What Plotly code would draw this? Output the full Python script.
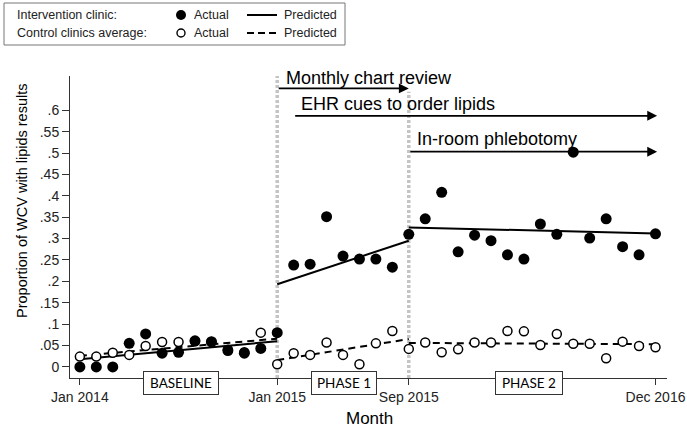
import plotly.graph_objects as go

# ---------------- data ----------------
months = list(range(36))
intervention_actual = [0.0, 0.0, 0.0, 0.055, 0.077, 0.032, 0.034, 0.061, 0.059, 0.038, 0.032, 0.043,
                       0.080, 0.238, 0.240, 0.351, 0.259, 0.252, 0.252, 0.233,
                       0.310, 0.346, 0.408, 0.269, 0.308, 0.295, 0.262, 0.252, 0.334, 0.310,
                       0.502, 0.301, 0.346, 0.281, 0.262, 0.311]
control_actual = [0.024, 0.024, 0.033, 0.028, 0.049, 0.058, 0.058, 0.060, 0.058, 0.040, 0.034, 0.080,
                  0.006, 0.032, 0.028, 0.057, 0.028, 0.006, 0.055, 0.084,
                  0.042, 0.057, 0.034, 0.041, 0.057, 0.057, 0.084, 0.083, 0.051, 0.077,
                  0.054, 0.054, 0.020, 0.059, 0.049, 0.046]

# predicted segments: (start month, end month, start value, end value)
intervention_pred = [(0, 12, 0.018, 0.060), (12, 20, 0.193, 0.295), (20, 35, 0.326, 0.312)]
control_pred = [(0, 12, 0.026, 0.066), (12, 20, 0.016, 0.065), (20, 35, 0.056, 0.053)]

x_tick_vals = [0, 12, 20, 35]
x_tick_text = ["Jan 2014", "Jan 2015", "Sep 2015", "Dec 2016"]
y_tick_vals = [0, 0.05, 0.1, 0.15, 0.2, 0.25, 0.3, 0.35, 0.4, 0.45, 0.5, 0.55, 0.6]
y_tick_text = ["0", ".05", ".1", ".15", ".2", ".25", ".3", ".35", ".4", ".45", ".5", ".55", ".6"]

phase_lines = [12, 20]
phase_labels = ["BASELINE", "PHASE 1", "PHASE 2"]
phase_label_x = [6.15, 16.05, 27.3]

interventions = ["Monthly chart review", "EHR cues to order lipids", "In-room phlebotomy"]
interv_start = [12, 13, 20]
interv_end = [20, 35.1, 35.1]
interv_y = [0.651, 0.587, 0.503]

# ---------------- layout geometry ----------------
W, H = 687, 429
L, R, T, B = 70, 20, 76, 51
PW, PH = W - L - R, H - T - B
FONT = "Liberation Sans, Arial, Helvetica, sans-serif"


def px(xp):
    return (xp - L) / PW


def py(yp):
    return (H - B - yp) / PH


fig = go.Figure()

# predicted lines
for (x0, x1, y0, y1) in control_pred:
    fig.add_trace(go.Scatter(x=[x0, x1], y=[y0, y1], mode="lines",
                             line=dict(color="black", width=2, dash="7px,5px"),
                             showlegend=False, hoverinfo="skip"))
for (x0, x1, y0, y1) in intervention_pred:
    fig.add_trace(go.Scatter(x=[x0, x1], y=[y0, y1], mode="lines",
                             line=dict(color="black", width=2),
                             showlegend=False, hoverinfo="skip"))

# actual points
fig.add_trace(go.Scatter(x=months, y=control_actual, mode="markers",
                         marker=dict(symbol="circle", size=9, color="white",
                                     line=dict(color="black", width=1.5)),
                         showlegend=False, cliponaxis=False))
fig.add_trace(go.Scatter(x=months, y=intervention_actual, mode="markers",
                         marker=dict(symbol="circle", size=11, color="black",
                                     line=dict(width=0)),
                         showlegend=False, cliponaxis=False))

shapes = []
# vertical dotted phase lines
line_tops = [0.682, 0.643]
for xv, top in zip(phase_lines, line_tops):
    shapes.append(dict(type="line", xref="x", yref="y", x0=xv, x1=xv, y0=-0.026, y1=top,
                       line=dict(color="#c4c4c4", width=3.5, dash="3px,2px"), layer="below"))

# legend box
shapes.append(dict(type="rect", xref="paper", yref="paper",
                   x0=px(4), x1=px(345), y0=py(45), y1=py(3),
                   line=dict(color="#777", width=1), fillcolor="white"))
# legend markers
shapes.append(dict(type="circle", xref="paper", yref="paper", xsizemode="pixel", ysizemode="pixel",
                   xanchor=px(181), yanchor=py(15), x0=-5, x1=5, y0=-5, y1=5,
                   fillcolor="black", line=dict(color="black", width=0)))
shapes.append(dict(type="circle", xref="paper", yref="paper", xsizemode="pixel", ysizemode="pixel",
                   xanchor=px(181), yanchor=py(33), x0=-4, x1=4, y0=-4, y1=4,
                   fillcolor="white", line=dict(color="black", width=1.4)))
# legend lines
shapes.append(dict(type="line", xref="paper", yref="paper", x0=px(247), x1=px(277),
                   y0=py(15), y1=py(15), line=dict(color="black", width=2)))
shapes.append(dict(type="line", xref="paper", yref="paper", x0=px(247), x1=px(277),
                   y0=py(33), y1=py(33), line=dict(color="black", width=2, dash="7px,4px")))

annotations = []
lg_font = dict(family=FONT, size=12.5, color="#222")
for text, xp, yp in [("Intervention clinic:", 15, 15), ("Control clinics average:", 15, 33),
                     ("Actual", 192, 15), ("Actual", 192, 33),
                     ("Predicted", 282, 15), ("Predicted", 282, 33)]:
    annotations.append(dict(text=text, xref="paper", yref="paper", x=px(xp), y=py(yp),
                            xanchor="left", yanchor="middle", showarrow=False, font=lg_font))

# intervention arrows and labels
text_px_y = [78, 104, 139]
text_px_x = [284, 299, 415]
for name, xs, xe, yv, tx, ty in zip(interventions, interv_start, interv_end, interv_y,
                                     text_px_x, text_px_y):
    annotations.append(dict(x=xe, y=yv, ax=xs, ay=yv, xref="x", yref="y", axref="x", ayref="y",
                            text="", showarrow=True, arrowhead=2, arrowsize=1.1, arrowwidth=1.8,
                            arrowcolor="black"))
    annotations.append(dict(x=px(tx), y=py(ty), xref="paper", yref="paper", text=name,
                            showarrow=False, xanchor="left", yanchor="middle",
                            font=dict(family=FONT, size=18, color="black")))

# phase boxes
box_w = [70, 60, 62]
for lab, xv, bw in zip(phase_labels, phase_label_x, box_w):
    annotations.append(dict(x=xv, y=py(382.5), xref="x", yref="paper", text=lab, showarrow=False,
                            xanchor="center", yanchor="middle", bgcolor="white",
                            bordercolor="#333", borderwidth=1, borderpad=2,
                            width=bw, height=18,
                            font=dict(family="Lato, " + FONT, size=13.5, color="black")))

# axis titles
annotations.append(dict(text="Proportion of WCV with lipids results", xref="paper", yref="paper",
                        x=px(22), y=py(201), textangle=-90, showarrow=False,
                        xanchor="center", yanchor="middle",
                        font=dict(family=FONT, size=14.5, color="black")))
annotations.append(dict(text="Month", xref="paper", yref="paper", x=px(369), y=py(418),
                        showarrow=False, xanchor="center", yanchor="middle",
                        font=dict(family=FONT, size=17, color="black")))

fig.update_layout(
    template="none",
    width=W, height=H,
    margin=dict(l=L, r=R, t=T, b=B, pad=0, autoexpand=False),
    paper_bgcolor="white", plot_bgcolor="white",
    showlegend=False,
    shapes=shapes, annotations=annotations,
    xaxis=dict(range=[-0.6, 35.7], tickvals=x_tick_vals, ticktext=x_tick_text,
               automargin=False,
               showgrid=False, zeroline=False, showline=True, linecolor="#333", linewidth=1,
               ticks="outside", ticklen=6, tickcolor="#333",
               tickfont=dict(family=FONT, size=14, color="#222")),
    yaxis=dict(range=[-0.026, 0.68], tickvals=y_tick_vals, ticktext=y_tick_text,
               automargin=False,
               showgrid=False, zeroline=False, showline=True, linecolor="#333", linewidth=1,
               ticks="outside", ticklen=7, tickcolor="#333",
               tickfont=dict(family=FONT, size=14, color="#222")),
)

fig.write_html("out.html", config={"displayModeBar": False},
               post_script="document.body.style.margin='0';")
